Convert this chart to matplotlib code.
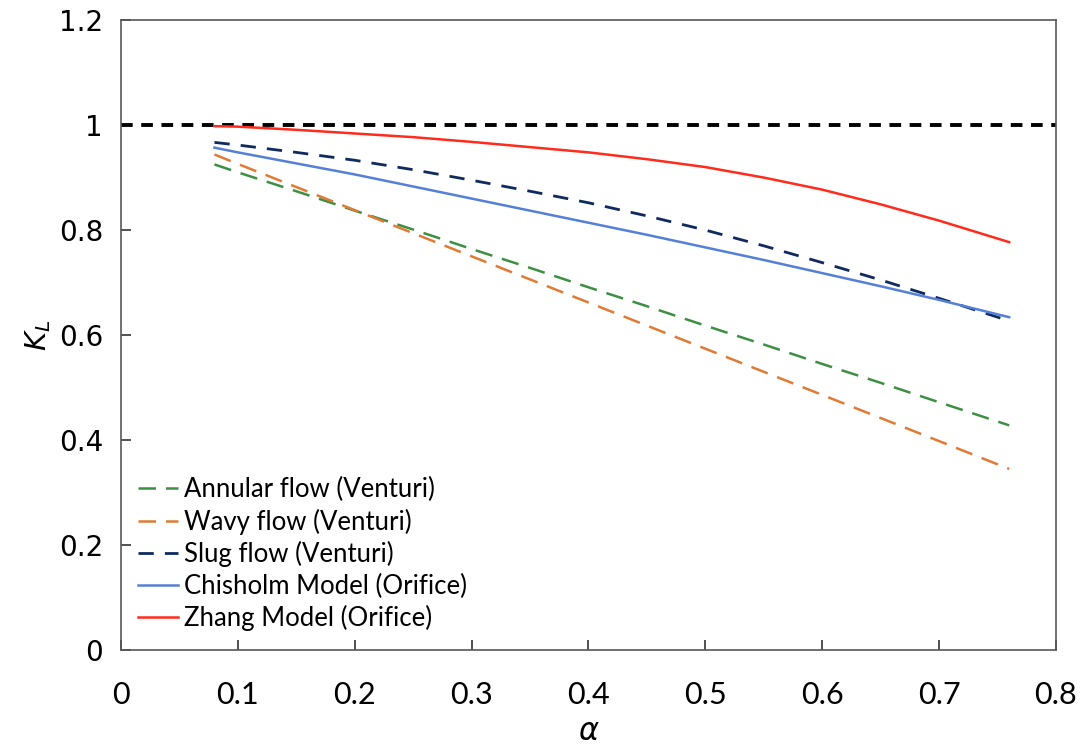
import matplotlib
matplotlib.use("Agg")
import matplotlib.pyplot as plt

# alpha values where curves are sampled
alpha = [0.08, 0.1, 0.15, 0.2, 0.25, 0.3, 0.35, 0.4, 0.45, 0.5, 0.55, 0.6, 0.65, 0.7, 0.76]

annular = [0.925, 0.910, 0.874, 0.837, 0.801, 0.764, 0.728, 0.691, 0.655, 0.618, 0.582, 0.545, 0.509, 0.472, 0.428]
wavy = [0.944, 0.926, 0.882, 0.838, 0.794, 0.750, 0.706, 0.662, 0.618, 0.574, 0.530, 0.486, 0.442, 0.398, 0.345]
slug = [0.967, 0.962, 0.948, 0.933, 0.915, 0.895, 0.874, 0.852, 0.827, 0.800, 0.770, 0.738, 0.705, 0.670, 0.627]
chisholm = [0.957, 0.948, 0.927, 0.906, 0.883, 0.860, 0.837, 0.814, 0.791, 0.767, 0.743, 0.718, 0.693, 0.667, 0.634]
zhang = [0.998, 0.997, 0.991, 0.984, 0.977, 0.968, 0.958, 0.948, 0.935, 0.920, 0.900, 0.877, 0.849, 0.818, 0.777]

ref_x = [0, 0.8]
ref_y = [1, 1]

xticks = [0, 0.1, 0.2, 0.3, 0.4, 0.5, 0.6, 0.7, 0.8]
xtick_labels = ['0', '0.1', '0.2', '0.3', '0.4', '0.5', '0.6', '0.7', '0.8']
yticks = [0, 0.2, 0.4, 0.6, 0.8, 1, 1.2]
ytick_labels = ['0', '0.2', '0.4', '0.6', '0.8', '1', '1.2']

plt.rcParams['font.family'] = ['Lato', 'DejaVu Sans']

fig = plt.figure(figsize=(10.83, 7.44), dpi=100)
ax = fig.add_axes([0.1117, 0.1263, 0.8633, 0.8467])

ax.plot(ref_x, ref_y, color='black', lw=2.8, dashes=(3, 2.2))
ax.plot(alpha, annular, color='#3d8f43', lw=1.8, dashes=(7, 4), label='Annular flow (Venturi)')
ax.plot(alpha, wavy, color='#e07a35', lw=1.8, dashes=(7, 4), label='Wavy flow (Venturi)')
ax.plot(alpha, slug, color='#0e2a5e', lw=2.0, dashes=(5.5, 4), label='Slug flow (Venturi)')
ax.plot(alpha, chisholm, color='#5580d8', lw=1.8, label='Chisholm Model (Orifice)')
ax.plot(alpha, zhang, color='#ff2b1c', lw=1.8, label='Zhang Model (Orifice)')

ax.set_xlim(0, 0.8)
ax.set_ylim(0, 1.2)
ax.set_xticks(xticks)
ax.set_xticklabels(xtick_labels, fontsize=22,
                   family=['Liberation Sans Narrow', 'Lato', 'DejaVu Sans'])
ax.set_yticks(yticks)
ax.set_yticklabels(ytick_labels, fontsize=20, family=['DejaVu Sans'])
ax.tick_params(direction='in', length=7, width=1.2, color='#333333')
ax.tick_params(axis='x', pad=22)
ax.tick_params(axis='y', pad=13)
for s in ax.spines.values():
    s.set_color('#595959')
    s.set_linewidth(1.2)

ax.set_xlabel(r'$\alpha$', fontsize=22, labelpad=6)
ax.set_ylabel(r'$K_L$', fontsize=21, labelpad=4)

ax.legend(loc='lower left', frameon=False, fontsize=18.5, handlelength=1.55,
          handletextpad=0.25, labelspacing=0.25, borderaxespad=0.4,
          bbox_to_anchor=(-0.004, -0.003))

fig.savefig('out.png', dpi=100)
